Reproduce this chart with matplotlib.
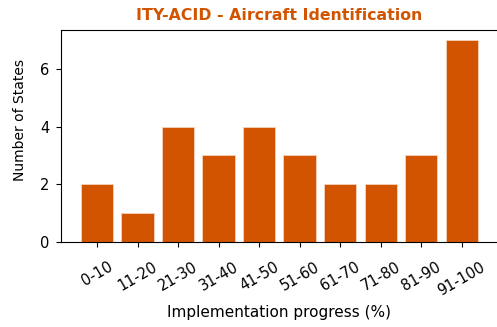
import matplotlib.pyplot as plt

# progress buckets and number of states in each
categories = ['0-10', '11-20', '21-30', '31-40', '41-50',
              '51-60', '61-70', '71-80', '81-90', '91-100']
states = [2, 1, 4, 3, 4, 3, 2, 2, 3, 7]

orange = '#d35400'

fig = plt.figure(figsize=(4.97, 3.27), dpi=100)
ax = fig.add_axes([0.1227, 0.26, 0.879, 0.648])

x = range(len(categories))
ax.bar(x, states, width=0.8, color=orange, edgecolor='#f6d2bb', linewidth=0.6)

ax.set_xticks(list(x))
ax.set_xticklabels(categories, rotation=30, fontsize=10.5)
ax.tick_params(axis='x', pad=9)
ax.set_yticks([0, 2, 4, 6])
ax.tick_params(axis='y', labelsize=10.5, pad=5)
ax.spines['right'].set_visible(False)

ax.set_xlabel('Implementation progress (%)', fontsize=11, labelpad=5)
ax.set_ylabel('Number of States', fontsize=10)
ax.yaxis.set_label_coords(-0.078, 0.575)
ax.set_title('ITY-ACID - Aircraft Identification', color=orange,
             fontweight='bold', fontsize=11.3, pad=7)

fig.savefig('out.png', dpi=100)
